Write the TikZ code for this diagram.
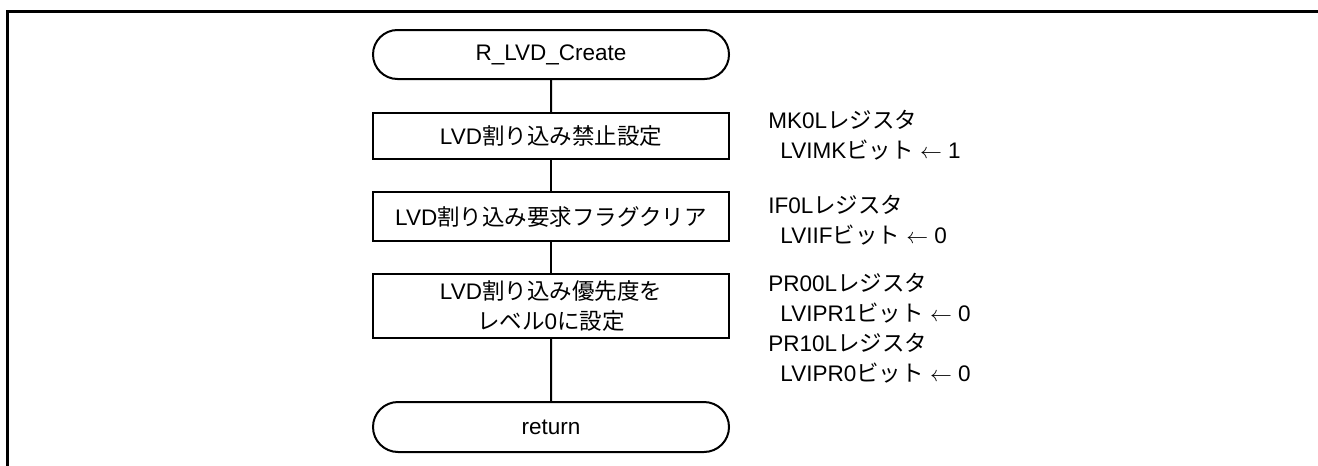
\documentclass[tikz,border=0pt]{standalone}
\usepackage{fontspec}
\setmainfont{Liberation Sans}
\newfontfamily\jp{Noto Sans CJK JP}
\usepackage{tikz}
\usetikzlibrary{shapes.misc,positioning}

\tikzset{
	term/.style={rounded rectangle, draw, line width=1pt, minimum width=178pt, minimum height=24.5pt, inner sep=0pt},
	proc/.style={rectangle, draw, line width=1pt, minimum width=178pt, inner sep=0pt, align=center},
	note/.style={anchor=west, align=left, inner sep=0pt},
	every node/.style={font=\fontsize{11.25}{15}\selectfont}
}

\begin{document}
\begin{tikzpicture}[x=0.5pt, y=-0.5pt]
		\useasboundingbox (0,0) rectangle (1318,466);

		% draw frame
		\draw[line width=1.5pt] (7,470) -- (7,11) -- (1320,11);

		% draw flow
		\node[term] (start) at (551,54.5) {R\_LVD\_Create};
		\node[proc, minimum height=23pt] (mask) at (551,136) {LVD{\jp 割り込み禁止設定}};
		\node[proc, minimum height=24.5pt] (flag) at (551,216.5) {LVD{\jp 割り込み要求フラグクリア}};
		\node[proc, minimum height=32pt] (prio) at (551,306) {LVD{\jp 割り込み優先度を}\\{\jp レベル}0{\jp に設定}};
		\node[term, minimum height=25pt] (ret) at (551,427) {return};

		\draw[line width=1pt] (start) -- (mask);
		\draw[line width=1pt] (mask) -- (flag);
		\draw[line width=1pt] (flag) -- (prio);
		\draw[line width=1pt] (prio) -- (ret);

		% draw notes
		\node[note] (maskreg) at (768,135) {MK0L{\jp レジスタ}\\\hspace*{6pt}LVIMK{\jp ビット} $\leftarrow$ 1};
		\node[note] (flagreg) at (768,220) {IF0L{\jp レジスタ}\\\hspace*{6pt}LVIIF{\jp ビット} $\leftarrow$ 0};
		\node[note] (prioreg) at (768,328) {PR00L{\jp レジスタ}\\\hspace*{6pt}LVIPR1{\jp ビット} $\leftarrow$ 0\\PR10L{\jp レジスタ}\\\hspace*{6pt}LVIPR0{\jp ビット} $\leftarrow$ 0};
	\end{tikzpicture}
\end{document}
